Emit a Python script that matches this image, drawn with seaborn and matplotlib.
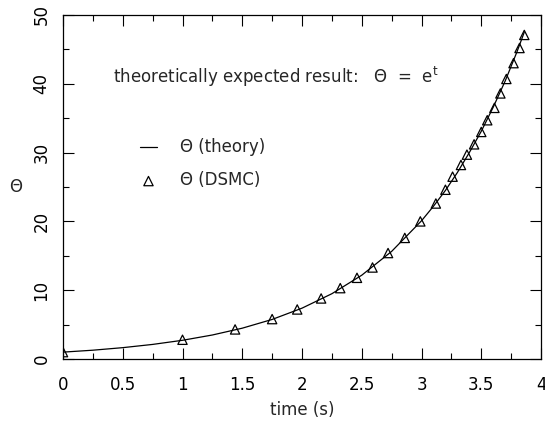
import numpy as np
import pandas as pd
import matplotlib
matplotlib.use("Agg")
import matplotlib.pyplot as plt
import seaborn as sns
from matplotlib.ticker import MultipleLocator

# Theory curve (Theta = e^t)
theory_t = [0.0, 0.25, 0.5, 0.75, 1.0, 1.25, 1.5, 1.75, 2.0, 2.25, 2.5, 2.75,
            3.0, 3.1, 3.2, 3.3, 3.4, 3.5, 3.6, 3.7, 3.8, 3.86]
theory_theta = [1.0, 1.28, 1.65, 2.12, 2.72, 3.49, 4.48, 5.75, 7.39, 9.49, 12.18, 15.64,
                20.09, 22.2, 24.5, 27.1, 30.0, 33.1, 36.6, 40.4, 44.7, 47.5]

# DSMC points
dsmc_t = [0.0, 1.0, 1.44, 1.75, 1.96, 2.16, 2.32, 2.46, 2.59, 2.72, 2.86, 2.99,
          3.12, 3.20, 3.26, 3.33, 3.38, 3.44, 3.50, 3.55, 3.61, 3.66, 3.71,
          3.77, 3.82, 3.86]
dsmc_theta = [1.0, 2.8, 4.3, 5.8, 7.2, 8.8, 10.3, 11.8, 13.3, 15.4, 17.6, 20.0,
              22.6, 24.6, 26.5, 28.2, 29.7, 31.2, 33.0, 34.7, 36.5, 38.6, 40.7,
              43.0, 45.2, 47.1]

x_ticks = [0, 0.5, 1, 1.5, 2, 2.5, 3, 3.5, 4]
x_tick_labels = ["0", "0.5", "1", "1.5", "2", "2.5", "3", "3.5", "4"]
y_ticks = [0, 10, 20, 30, 40, 50]
y_tick_labels = ["0", "10", "20", "30", "40", "50"]

sns.set_theme(style="ticks")
plt.rcParams['font.family'] = ['DejaVu Sans']
plt.rcParams['mathtext.fontset'] = 'dejavusans'

fig = plt.figure(figsize=(5.45, 4.28), dpi=100)
ax = fig.add_axes([0.1156, 0.1612, 0.8771, 0.8038])

df_th = pd.DataFrame({"t": theory_t, "theta": theory_theta})
df_ds = pd.DataFrame({"t": dsmc_t, "theta": dsmc_theta})

sns.lineplot(data=df_th, x="t", y="theta", ax=ax, color="black", lw=0.9,
             label="Θ (theory)")
sns.scatterplot(data=df_ds, x="t", y="theta", ax=ax, marker="^", s=45,
                facecolor="none", edgecolor="black", linewidth=0.9,
                label="Θ (DSMC)", zorder=3)

ax.set_xlim(0, 4)
ax.set_ylim(0, 50)
ax.set_xticks(x_ticks)
ax.set_xticklabels(x_tick_labels)
ax.set_yticks(y_ticks)
ax.set_yticklabels(y_tick_labels, rotation=90, va="center")
ax.xaxis.set_minor_locator(MultipleLocator(0.25))
ax.yaxis.set_minor_locator(MultipleLocator(5))
ax.tick_params(which="both", direction="in", top=True, right=True,
               colors="black", labelsize=12, width=0.8)
ax.tick_params(which="major", length=8)
ax.tick_params(which="minor", length=4)
ax.tick_params(axis="x", pad=12)
ax.tick_params(axis="y", pad=9)
for sp in ax.spines.values():
    sp.set_visible(True)
    sp.set_linewidth(0.9)
    sp.set_color("black")

ax.set_xlabel("time (s)", fontsize=12, labelpad=5)
ax.set_ylabel("Θ", fontsize=12, rotation=0, labelpad=12, va="center")

ax.text(0.105, 0.82, "theoretically expected result:   Θ  =  e$^{\\mathregular{t}}$",
        transform=ax.transAxes, fontsize=12, va="center", ha="left")

leg = ax.legend(loc="center left", bbox_to_anchor=(0.13, 0.567), frameon=False,
                fontsize=12, handlelength=1.0, handletextpad=1.4,
                labelspacing=0.9)

fig.savefig("out.png", dpi=100, facecolor="white")
